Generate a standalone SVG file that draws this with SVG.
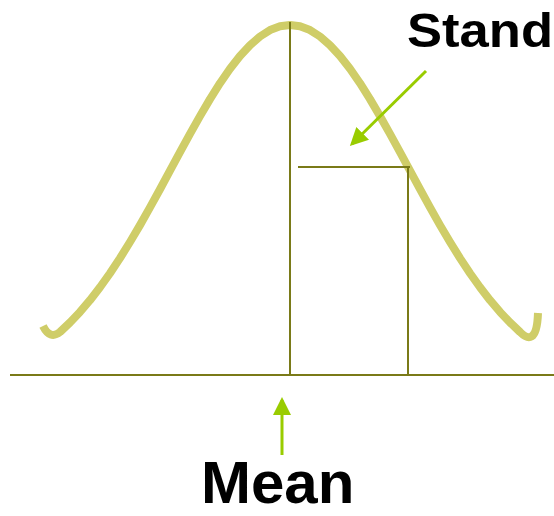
<svg xmlns="http://www.w3.org/2000/svg" width="554" height="516" viewBox="0 0 554 516">
<defs>
<style>
.ax{stroke:#7a7a18;stroke-width:2;fill:none}
.curve{stroke:#cfcd68;stroke-width:8;fill:none;stroke-linejoin:round}
.arr{stroke:#99cc00;stroke-width:3;fill:none}
.lbl{font-family:"Liberation Sans",Arial,sans-serif;font-weight:bold;fill:#000}
</style>
<marker id="ah" markerWidth="6" markerHeight="6" refX="5" refY="3" orient="auto" markerUnits="strokeWidth">
<path d="M0,0 L6,3 L0,6 z" fill="#99cc00"/>
</marker>
</defs>
<g id="curve">
<path class="curve" d="M43,326 Q50,340 60,332 L70,322.5 L80,311.9 L90,300.2 L100,287.3 L110,273.2 L120,258.1 L130,242 L140,225.1 L150,207.4 L160,189.2 L170,170.7 L180,152.2 L190,133.9 L200,116.1 L210,99.1 L220,83.2 L230,68.8 L240,56 L250,45.2 L260,36.5 L270,30.1 L280,26.3 L290,25 L300,26.3 L310,30.1 L320,36.5 L330,45.2 L340,56 L350,68.8 L360,83.2 L370,99.1 L380,116.1 L390,133.9 L400,152.2 L410,170.7 L420,189.2 L430,207.4 L440,225.1 L450,242 L460,258.1 L470,273.2 L480,287.3 L490,300.2 L500,311.9 L510,322.5 L520,332 C528,340 537,342 538,313"/>
</g>
<g id="axes">
<line class="ax" x1="10" y1="375" x2="554" y2="375"/>
<line class="ax" x1="290" y1="22" x2="290" y2="375"/>
<line class="ax" x1="298" y1="167" x2="410" y2="167"/>
<line class="ax" x1="408" y1="167" x2="408" y2="375"/>
</g>
<g id="connectors">
<line class="arr" x1="426" y1="71" x2="352" y2="144" marker-end="url(#ah)"/>
<line class="arr" x1="282" y1="455" x2="282" y2="400" marker-end="url(#ah)"/>
</g>
<g id="label-stand">
<text class="lbl" x="407" y="47" font-size="48" textLength="146" lengthAdjust="spacingAndGlyphs">Stand</text>
</g>
<g id="label-mean">
<text class="lbl" x="201" y="503" font-size="60">Mean</text>
</g>
</svg>
